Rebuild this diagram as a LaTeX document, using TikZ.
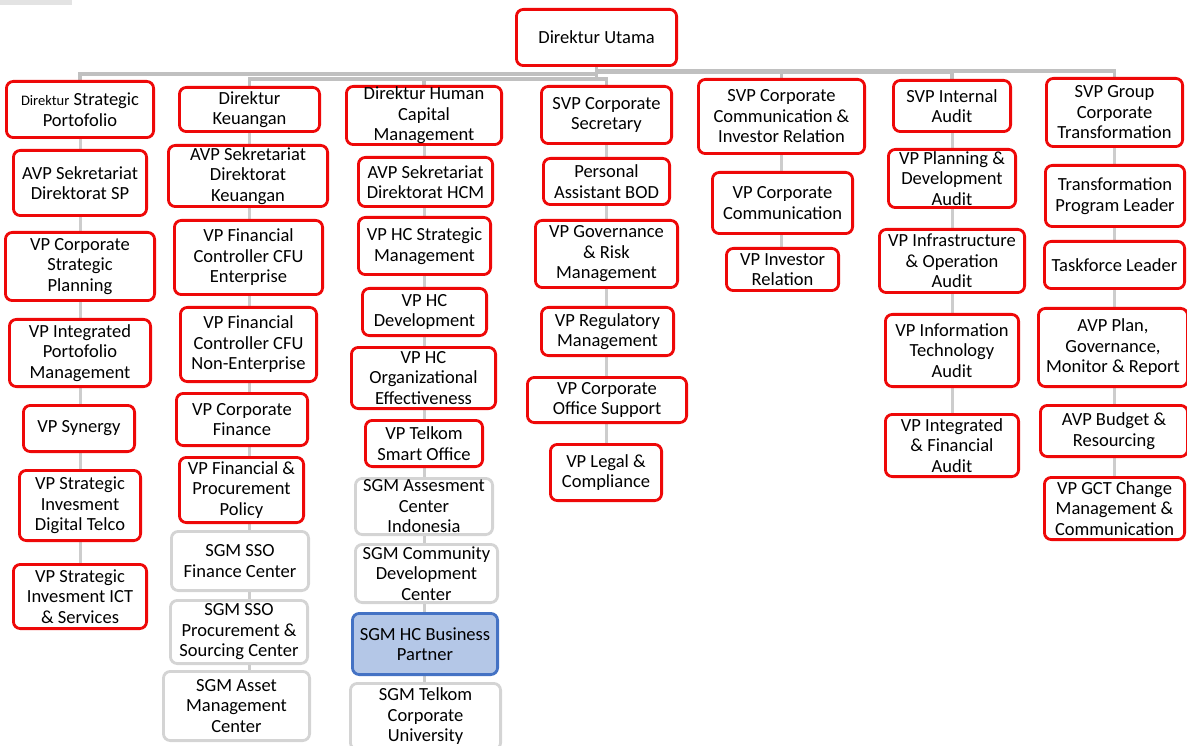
\documentclass[tikz,border=0pt]{standalone}
\usepackage{fontspec}
\setmainfont{Carlito}
\usetikzlibrary{backgrounds}
\definecolor{boxred}{RGB}{238,8,8}
\definecolor{boxgray}{RGB}{212,212,212}
\definecolor{boxblue}{RGB}{68,114,196}
\definecolor{boxbluefill}{RGB}{180,199,231}
\definecolor{linegray}{RGB}{192,192,192}
\definecolor{stubgray}{RGB}{205,205,205}
\newcommand\boxfont{\fontsize{18.5}{20.5}\selectfont}
\newcommand\bx[7][redbox]{\node[#1, minimum width={(#5-#3-2.8)*1pt}, minimum height={(#6-#4-2.8)*1pt}] (#2) at ({(#3+#5)/2},{(#4+#6)/2}) {#7};}
\tikzset{
  box/.style={draw, rounded corners=7pt, line width=2.8pt, fill=white, align=center, inner sep=0.5pt, font=\boxfont, text=black},
  redbox/.style={box, draw=boxred},
  graybox/.style={box, draw=boxgray},
  bluebox/.style={box, draw=boxblue, fill=boxbluefill},
  bus/.style={draw=linegray, line width=3.5pt},
  conn/.style={draw=stubgray, line width=3pt},
}
\begin{document}
\begin{tikzpicture}[x=1pt,y=-1pt]
\useasboundingbox (0,0) rectangle (1187,746);
\fill[gray!22] (0,0) rectangle (72,5);
% top
\bx{dir}{515}{8}{678}{67}{Direktur Utama}
% column 1
\bx{n11}{5}{80}{155}{139}{{\fontsize{14.5}{20.5}\selectfont Direktur} Strategic\\Portofolio}
\bx{n12}{12}{149}{148}{217}{AVP Sekretariat\\Direktorat SP}
\bx{n13}{4}{231}{156}{302}{VP Corporate\\Strategic\\Planning}
\bx{n14}{8}{318}{152}{388}{VP Integrated\\Portofolio\\Management}
\bx{n15}{22}{404}{136}{453}{VP Synergy}
\bx{n16}{18}{469}{142}{542}{VP Strategic\\Invesment\\Digital Telco}
\bx{n17}{12}{563}{148}{630}{VP Strategic\\Invesment ICT\\\& Services}
% column 2
\bx{n21}{178}{86}{321}{133}{Direktur\\Keuangan}
\bx{n22}{167}{144}{329}{208}{AVP Sekretariat\\Direktorat\\Keuangan}
\bx{n23}{173}{219}{324}{296}{VP Financial\\Controller CFU\\Enterprise}
\bx{n24}{179}{306}{318}{383}{VP Financial\\Controller CFU\\Non-Enterprise}
\bx{n25}{175}{392}{309}{447}{VP Corporate\\Finance}
\bx{n26}{178}{456}{305}{524}{VP Financial \&\\Procurement\\Policy}
\bx[graybox]{n27}{170}{530}{310}{592}{SGM SSO\\Finance Center}
\bx[graybox]{n28}{169}{599}{309}{665}{SGM SSO\\Procurement \&\\Sourcing Center}
\bx[graybox]{n29}{162}{670}{311}{742}{SGM Asset\\Management\\Center}
% column 3
\bx{n31}{345}{85}{503}{146}{Direktur Human\\Capital\\Management}
\bx{n32}{357}{156}{494}{208}{AVP Sekretariat\\Direktorat HCM}
\bx{n33}{357}{216}{492}{276}{VP HC Strategic\\Management}
\bx{n34}{361}{287}{488}{337}{VP HC\\Development}
\bx{n35}{350}{346}{497}{410}{VP HC\\Organizational\\Effectiveness}
\bx{n36}{364}{419}{484}{468}{VP Telkom\\Smart Office}
\bx[graybox]{n37}{354}{477}{494}{536}{SGM Assesment\\Center\\Indonesia}
\bx[graybox]{n38}{354}{543}{499}{604}{SGM Community\\Development\\Center}
\bx[bluebox]{n39}{351}{612}{499}{676}{SGM HC Business\\Partner}
\bx[graybox]{n310}{349}{682}{502}{751}{SGM Telkom\\Corporate\\University}
% column 4
\bx{n41}{540}{85}{673}{145}{SVP Corporate\\Secretary}
\bx{n42}{542}{157}{671}{206}{Personal\\Assistant BOD}
\bx{n43}{534}{219}{679}{289}{VP Governance\\\& Risk\\Management}
\bx{n44}{540}{306}{675}{357}{VP Regulatory\\Management}
\bx{n45}{526}{376}{688}{424}{VP Corporate\\Office Support}
\bx{n46}{549}{443}{663}{502}{VP Legal \&\\Compliance}
% column 5
\bx{n51}{697}{78}{866}{155}{SVP Corporate\\Communication \&\\Investor Relation}
\bx{n52}{711}{171}{854}{235}{VP Corporate\\Communication}
\bx{n53}{725}{247}{840}{292}{VP Investor\\Relation}
% column 6
\bx{n61}{892}{79}{1012}{133}{SVP Internal\\Audit}
\bx{n62}{887}{148}{1017}{209}{VP Planning \&\\Development\\Audit}
\bx{n63}{878}{228}{1026}{294}{VP Infrastructure\\\& Operation\\Audit}
\bx{n64}{884}{313}{1020}{388}{VP Information\\Technology\\Audit}
\bx{n65}{884}{413}{1020}{478}{VP Integrated\\\& Financial\\Audit}
% column 7
\bx{n71}{1045}{77}{1184}{148}{SVP Group\\Corporate\\Transformation}
\bx{n72}{1044}{164}{1186}{228}{Transformation\\Program Leader}
\bx{n73}{1043}{240}{1186}{290}{Taskforce Leader}
\bx{n74}{1037}{307}{1189}{388}{AVP Plan,\\Governance,\\Monitor \& Report}
\bx{n75}{1039}{404}{1189}{458}{AVP Budget \&\\Resourcing}
\bx{n76}{1043}{476}{1186}{541}{VP GCT Change\\Management \&\\Communication}
% connectors
\begin{pgfonlayer}{background}
\coordinate (busA) at (593,74);
\coordinate (busB) at (593,79);
\coordinate (busC) at (593,71);
\coordinate (busD) at (593,72);
\draw[bus] (dir.south) -- (dir.south |- busB);
\draw[bus] (dir.south |- busA) -| (n11.north);
\draw[bus] (dir.south |- busB) -| (n21.north);
\draw[bus] (n31.north) -- (n31.north |- busB);
\draw[bus] (dir.south |- busB) -| (n41.north);
\draw[bus] (dir.south |- busC) -| (n71.north);
\draw[bus] (dir.south |- busD) -| (n61.north);
\draw[bus] (n51.north) -- (n51.north |- busC);
\draw[conn] (n11.south) -- (n11.south |- n17.north);
\draw[conn] (n21.south) -- (n21.south |- n29.north);
\draw[conn] (n31.south) -- (n31.south |- n310.north);
\draw[conn] (n41.south) -- (n41.south |- n46.north);
\draw[conn] (n51.south) -- (n51.south |- n53.north);
\draw[conn] (n61.south) -- (n61.south |- n65.north);
\draw[conn] (n71.south) -- (n71.south |- n76.north);
\end{pgfonlayer}
\end{tikzpicture}
\end{document}
